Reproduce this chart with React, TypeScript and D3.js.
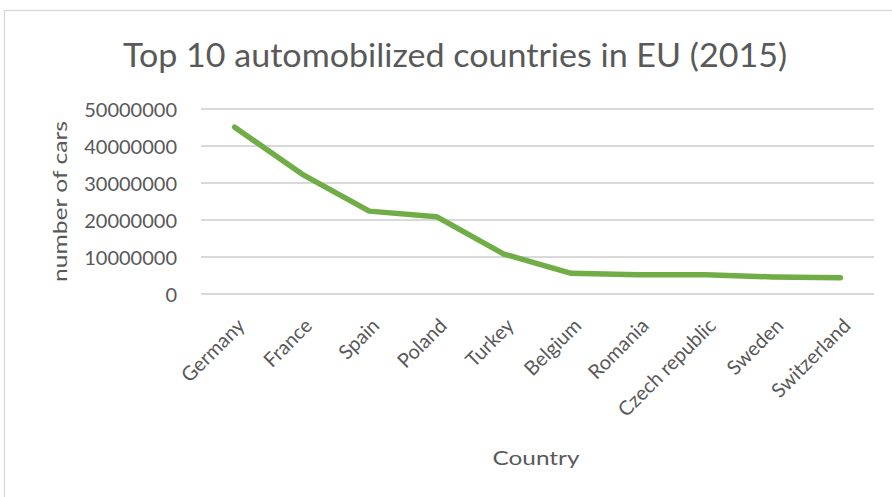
import React from "react";
import * as d3 from "d3";

const countries = ["Germany", "France", "Spain", "Poland", "Turkey", "Belgium", "Romania", "Czech republic", "Sweden", "Switzerland"];
const cars = [45100000, 32400000, 22400000, 20900000, 10800000, 5600000, 5200000, 5200000, 4600000, 4400000];
const yTicks = [0, 10000000, 20000000, 30000000, 40000000, 50000000];
const titleText = "Top 10 automobilized countries in EU (2015)";
const xTitle = "Country";
const yTitle = "number of cars";

const W = 892;
const H = 497;
const FONT = "Lato, 'Open Sans', sans-serif";
const TEXT = "#595959";

export default function App() {
  const x = d3.scaleBand<string>().domain(countries).range([201, 874]);
  const cx = (c: string) => (x(c) as number) + x.bandwidth() / 2;
  const y = d3.scaleLinear().domain([0, 50000000]).range([294, 109]);
  const line = d3
    .line<number>()
    .x((_, i) => cx(countries[i]))
    .y((d) => y(d));

  return (
    <svg width={W} height={H} style={{ position: "absolute", left: 0, top: 0, background: "#fff" }} fontFamily={FONT}>
      <rect x={4.5} y={10.5} width={W + 10} height={H + 10} fill="#fff" stroke="#d9d9d9" strokeWidth={1.3} />
      <text x={455} y={67} textAnchor="middle" fontSize={33} fill={TEXT} textLength={664} lengthAdjust="spacingAndGlyphs">
        {titleText}
      </text>
      {yTicks.map((t) => (
        <g key={t}>
          <line x1={201} x2={874} y1={y(t)} y2={y(t)} stroke="#d9d9d9" strokeWidth={1.8} />
          <text x={177} y={y(t) + 7.5} textAnchor="end" fontSize={20} fill={TEXT}>
            {String(t)}
          </text>
        </g>
      ))}
      <path d={line(cars) || ""} fill="none" stroke="#70ad47" strokeWidth={5.5} strokeLinecap="round" strokeLinejoin="round" />
      {countries.map((c) => (
        <text key={c} transform={`translate(${cx(c) + 11.5},327) rotate(-45)`} textAnchor="end" fontSize={20} fill={TEXT}>
          {c}
        </text>
      ))}
      <text x={536} y={465} textAnchor="middle" fontSize={20} fill={TEXT} textLength={87} lengthAdjust="spacingAndGlyphs">
        {xTitle}
      </text>
      <text transform="translate(67,201.5) rotate(-90)" textAnchor="middle" fontSize={20} fill={TEXT} textLength={161} lengthAdjust="spacingAndGlyphs">
        {yTitle}
      </text>
    </svg>
  );
}
